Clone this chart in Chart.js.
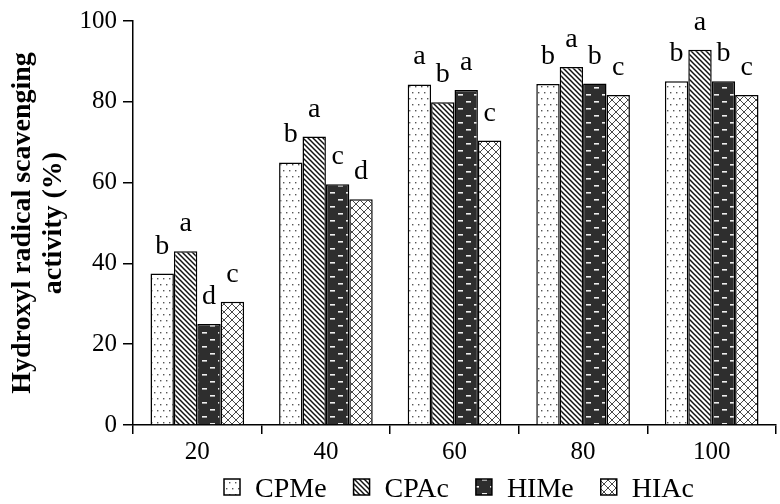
<!DOCTYPE html>
<html>
<head>
<meta charset="utf-8">
<script src="https://cdn.jsdelivr.net/npm/chart.js@4"></script>
<style>
html,body{margin:0;padding:0;background:#fff;}
#c{display:block;}
</style>
</head>
<body>
<canvas id="c" width="780" height="504"></canvas>
<script>
const categories = ['20', '40', '60', '80', '100'];
const seriesNames = ['CPMe', 'CPAc', 'HIMe', 'HIAc'];
const cpmeValues = [37.5, 65, 84.3, 84.4, 85.1];
const cpacValues = [43, 71.4, 79.9, 88.6, 92.9];
const himeValues = [25, 59.6, 82.9, 84.5, 85.1];
const hiacValues = [30.5, 55.9, 70.4, 81.7, 81.7];
const cpmeLetters = ['b', 'b', 'a', 'b', 'b'];
const cpacLetters = ['a', 'a', 'b', 'a', 'a'];
const himeLetters = ['d', 'c', 'a', 'b', 'b'];
const hiacLetters = ['c', 'd', 'c', 'c', 'c'];
const yTicks = [0, 20, 40, 60, 80, 100];

function makePattern(w, h, draw) {
  const cv = document.createElement('canvas');
  cv.width = w; cv.height = h;
  const g = cv.getContext('2d');
  draw(g, w, h);
  return g.createPattern(cv, 'repeat');
}
const ctx0 = document.getElementById('c').getContext('2d');
const patDots = makePattern(6, 12, (g, w, h) => {
  g.fillStyle = '#fff'; g.fillRect(0, 0, w, h);
  g.fillStyle = '#555';
  g.fillRect(1, 2, 1.4, 1.4);
  g.fillRect(4, 8, 1.4, 1.4);
});
const patDiag = makePattern(5, 5, (g, w, h) => {
  g.fillStyle = '#fff'; g.fillRect(0, 0, w, h);
  g.strokeStyle = '#111'; g.lineWidth = 1.5;
  for (const o of [-w, 0, w]) {
    g.beginPath(); g.moveTo(o - 1, -1); g.lineTo(o + w + 1, h + 1); g.stroke();
  }
});
const patDash = makePattern(16, 14, (g, w, h) => {
  g.fillStyle = '#2e2e2e'; g.fillRect(0, 0, w, h);
  g.fillStyle = '#f0f0f0';
  g.fillRect(2, 3, 5, 1.6);
  g.fillRect(10, 10, 5, 1.6);
});
const patCross = makePattern(8, 8, (g, w, h) => {
  g.fillStyle = '#fff'; g.fillRect(0, 0, w, h);
  g.strokeStyle = '#333'; g.lineWidth = 0.9;
  for (const o of [-w, 0, w]) {
    g.beginPath(); g.moveTo(o - 1, -1); g.lineTo(o + w + 1, h + 1); g.stroke();
    g.beginPath(); g.moveTo(o + w + 1, -1); g.lineTo(o - 1, h + 1); g.stroke();
  }
});

const seriesValues = [cpmeValues, cpacValues, himeValues, hiacValues];
const seriesLetters = [cpmeLetters, cpacLetters, himeLetters, hiacLetters];
const seriesFills = [patDots, patDiag, patDash, patCross];

const datasets = seriesNames.map((name, i) => ({
  label: name,
  data: seriesValues[i],
  letters: seriesLetters[i],
  backgroundColor: seriesFills[i],
  borderColor: '#000',
  borderWidth: 1.5,
  borderSkipped: 'bottom',
  categoryPercentage: 0.728,
  barPercentage: 1.0
}));

const serif = '"Liberation Serif", "Times New Roman", serif';

const letterPlugin = {
  id: 'letters',
  afterDatasetsDraw(chart) {
    const c = chart.ctx;
    c.save();
    c.font = '28px ' + serif;
    c.fillStyle = '#000';
    c.textAlign = 'center';
    c.textBaseline = 'alphabetic';
    chart.data.datasets.forEach((ds, i) => {
      const meta = chart.getDatasetMeta(i);
      meta.data.forEach((bar, j) => {
        c.fillText(ds.letters[j], bar.x, bar.y - 20);
      });
    });
    c.restore();
  }
};

const legendPlugin = {
  id: 'patternLegend',
  afterDraw(chart) {
    const c = chart.ctx;
    c.save();
    c.font = '28px ' + serif;
    c.textBaseline = 'alphabetic';
    c.textAlign = 'left';
    const box = 16, gap = 15, space = 27;
    const items = chart.data.datasets.map(ds => ({ ds, w: c.measureText(ds.label).width }));
    let x = 224;
    const boxTop = 479, baseline = 497;
    items.forEach(({ ds, w }) => {
      c.fillStyle = ds.backgroundColor;
      c.fillRect(x, boxTop, box, box);
      c.strokeStyle = '#000';
      c.lineWidth = 1.5;
      c.strokeRect(x, boxTop, box, box);
      c.fillStyle = '#000';
      c.fillText(ds.label, x + box + gap, baseline);
      x += box + gap + w + space;
    });
    c.restore();
  }
};

new Chart(ctx0, {
  type: 'bar',
  data: { labels: categories, datasets },
  plugins: [letterPlugin, legendPlugin],
  options: {
    responsive: false,
    animation: false,
    devicePixelRatio: 1,
    layout: { padding: { left: 0, right: 4, top: 20, bottom: 33 } },
    plugins: {
      tooltip: { enabled: false },
      legend: { display: false }
    },
    scales: {
      x: {
        grid: { display: true, drawOnChartArea: false, offset: true, color: '#000', tickLength: 9, lineWidth: 1.5 },
        border: { display: true, color: '#000', width: 1.5 },
        ticks: { color: '#000', font: { family: serif, size: 25 }, padding: 3 },
        afterFit(s) { s.height = 46; }
      },
      y: {
        min: 0, max: 100,
        afterBuildTicks(s) { s.ticks = yTicks.map(v => ({ value: v })); },
        grid: { display: true, drawOnChartArea: false, color: '#000', tickLength: 10, lineWidth: 1.5 },
        border: { display: true, color: '#000', width: 1.5 },
        ticks: { color: '#000', font: { family: serif, size: 25 }, padding: 6 },
        title: {
          display: true,
          text: ['Hydroxyl radical scavenging', 'activity (%)'],
          color: '#000',
          font: { family: serif, size: 28, weight: 'bold', lineHeight: 1.12 },
          padding: { top: 7, bottom: 0 }
        },
        afterFit(s) { s.width = 133; }
      }
    }
  }
});
</script>
</body>
</html>
